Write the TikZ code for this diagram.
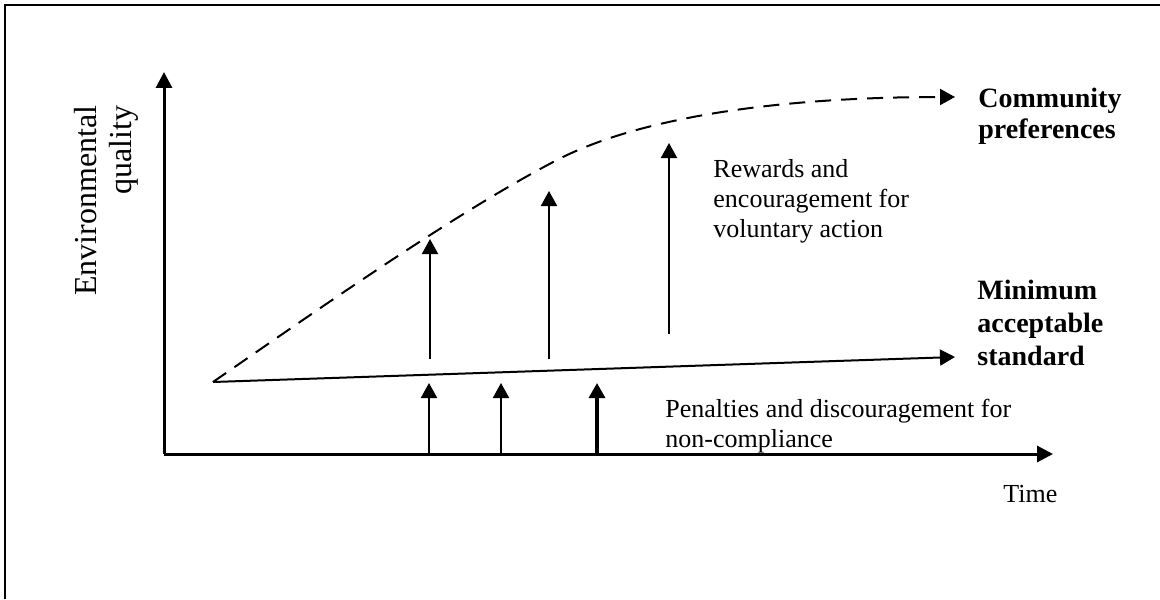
\documentclass[tikz,border=0pt]{standalone}
\usepackage{fontspec}
\setmainfont{Liberation Serif}
\usetikzlibrary{arrows.meta}

\tikzset{
  axis/.style={line width=1.5pt, -{Triangle[width=8pt,length=8pt]}},
  lift/.style={line width=1pt, -{Triangle[width=8pt,length=7.5pt]}},
  plain/.style={font=\fontsize{13}{15}\selectfont, align=left, inner sep=0pt, anchor=base west},
  heavy/.style={font=\fontsize{14}{16.5}\selectfont\bfseries, align=left, inner sep=0pt, anchor=base west},
}

\begin{document}
\begin{tikzpicture}[x=0.5pt,y=-0.5pt]
  \useasboundingbox (0,0) rectangle (1160,599);
  % frame, open at the right and at the bottom
  \draw[line width=1.2pt] (5,599) -- (5,5) -- (1160,5);

  \coordinate (O) at (164,454);
  \coordinate (ytip) at (164,72);
  \coordinate (xtip) at (1053,454);
  \coordinate (start) at (213,382);
  \coordinate (mintip) at (955,357);
  \coordinate (bend) at (557,160);
  \coordinate (preftip) at (955,97);

  \draw[axis] (O) -- (ytip);
  \draw[axis] (O) -- (xtip);

  % minimum standard and community preferences
  \draw[lift] (start) -- (mintip);
  \draw[lift, dash pattern=on 8pt off 5pt] (start) .. controls (323,306) and (457,212) .. (bend)
    .. controls (640,117) and (780,97) .. (preftip);

  % rewards, from the standard up
  \foreach \x/\lo/\hi [count=\i] in {430/359/239, 549/359/191, 669/334/143} {
    \coordinate (r\i lo) at (\x,\lo);
    \coordinate (r\i hi) at (\x,\hi);
    \draw[lift] (r\i lo) -- (r\i hi);
  }

  % penalties, from the time axis up
  \foreach \x/\w [count=\i] in {429/1pt, 501/1pt, 597/1.6pt} {
    \coordinate (p\i lo) at (\x,454);
    \coordinate (p\i hi) at (\x,383);
    \draw[lift, line width=\w] (p\i lo) -- (p\i hi);
  }

  % base of a multi-line node is its last line
  \node[plain] (rewards) at (713,237) {Rewards and\\encouragement for\\voluntary action};
  \node[plain] (penalties) at (665,447) {Penalties and discouragement for\\non-compliance};
  \node[plain] (time) at (1003,502) {Time};
  \node[heavy, font=\fontsize{14}{15.5}\selectfont\bfseries] (pref) at (978,138) {Community\\preferences};
  \node[heavy] (minstd) at (977,365) {Minimum\\acceptable\\standard};
  \node[font=\fontsize{16}{17.5}\selectfont, rotate=90, align=right, anchor=east, inner sep=0pt] (ylabel) at (106,105) {Environmental\\quality};
\end{tikzpicture}
\end{document}
